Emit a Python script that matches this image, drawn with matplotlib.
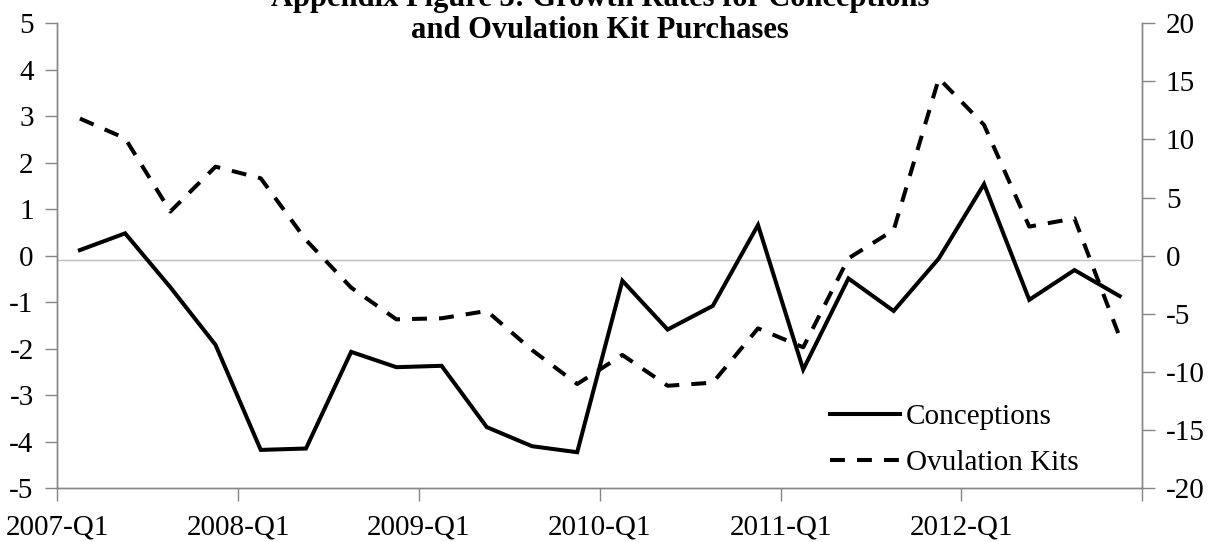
# Growth rates for conceptions vs ovulation kit purchases (two y axes)

import matplotlib.pyplot as plt
import numpy as np

plt.rcParams['font.family'] = ['Liberation Serif', 'DejaVu Serif']

# quarters 2007-Q1 .. 2012-Q4
quarters = [str(y) + '-Q' + str(q) for y in range(2007, 2013) for q in range(1, 5)]

# left axis, percent
conceptions = [0.12, 0.48, -0.68, -1.92, -4.18, -4.15, -2.07, -2.40, -2.37, -3.69, -4.10, -4.23,
               -0.54, -1.59, -1.08, 0.66, -2.45, -0.49, -1.19, -0.06, 1.54, -0.95, -0.31, -0.87]
# right axis, percent
ovulation_kits = [11.8, 10.1, 3.8, 7.66, 6.66, 1.35, -2.75, -5.48, -5.39, -4.76, -8.12, -11.05,
                  -8.55, -11.2, -10.93, -6.26, -7.89, -0.23, 2.2, 15.26, 11.25, 2.5, 3.21, -7.0]

left_ticks = list(range(-5, 6))
right_ticks = list(range(-20, 21, 5))

grey = '#868686'
fs = 21

fig = plt.figure(figsize=(12.17, 5.42), dpi=100)
ax = fig.add_axes([0.0471, 0.0996, 0.8915, 0.8574])
ax2 = ax.twinx()

x = np.arange(len(quarters))

# thin grey axis line just under zero
ax.axhline(-0.1, color='#BFBFBF', lw=1.0, zorder=1)

l1, = ax.plot(x, conceptions, color='black', lw=2.9, solid_joinstyle='miter', zorder=3)
l2, = ax2.plot(x, ovulation_kits, color='black', lw=2.9, linestyle=(0, (3.7, 3.0)),
               dash_capstyle='butt', zorder=3)

ax.set_xlim(-0.5, len(quarters) - 0.5)
ax.set_ylim(-5, 5)
ax2.set_ylim(-20, 20)

ax.set_yticks(left_ticks)
ax.set_yticklabels([str(v) for v in left_ticks])
ax2.set_yticks(right_ticks)
ax2.set_yticklabels([str(v) for v in right_ticks])

xt = np.arange(-0.5, len(quarters), 4)
ax.set_xticks(xt)
ax.set_xticklabels(quarters[::4] + [''])

for a in (ax, ax2):
    for s in a.spines.values():
        s.set_color(grey)
        s.set_linewidth(1.0)
    a.spines['top'].set_visible(False)
    a.tick_params(colors=grey, labelcolor='black', labelsize=fs, length=9, width=1.0, pad=8)
ax.tick_params(axis='x', pad=10)

# title, first line partly cut off by the top edge
title_x = 0.0471 + 0.8915 / 2
fig.text(title_x, 1 - 6 / 542, 'Appendix Figure 3: Growth Rates for Conceptions',
         ha='center', va='baseline', fontsize=22, fontweight='bold')
fig.text(title_x, 1 - 38 / 542, 'and Ovulation Kit Purchases',
         ha='center', va='baseline', fontsize=22, fontweight='bold')

ax2.legend([l1, l2], ['Conceptions', 'Ovulation Kits'], loc='upper left',
           bbox_to_anchor=(0.712, 0.181), frameon=False, fontsize=fs,
           handlelength=2.4, handletextpad=0.2, labelspacing=0.67, borderpad=0,
           borderaxespad=0)

fig.savefig('out.png', dpi=100)
